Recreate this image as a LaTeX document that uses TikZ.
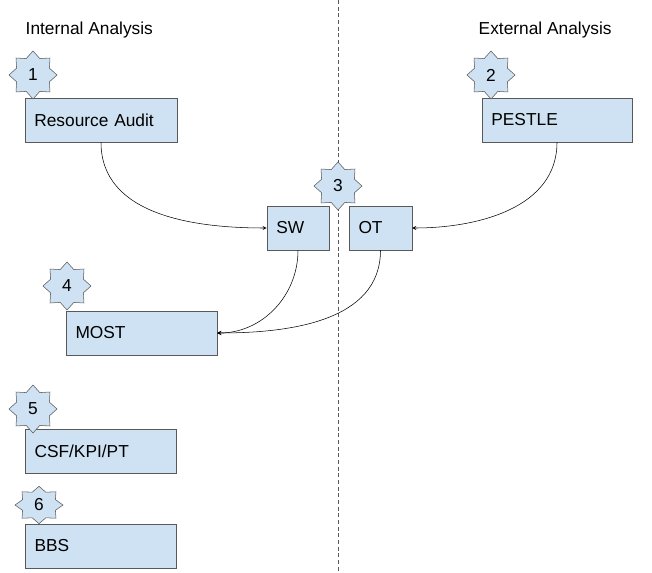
\documentclass[tikz,border=0pt]{standalone}
\usepackage{fontspec}
\setmainfont{Liberation Sans}
\usetikzlibrary{shapes.geometric}
\definecolor{boxblue}{HTML}{CFE2F3}
\definecolor{boxline}{HTML}{595959}

\tikzset{
  stage/.style={draw=boxline, fill=boxblue, text width=#1, align=left,
    inner xsep=7pt, inner ysep=0pt, minimum height=33pt},
  stage/.default=100pt,
  badge/.style={star, star points=8, star point ratio=1.35, draw=boxline,
    fill=boxblue, minimum size=36pt, inner sep=0pt},
  link/.style={-stealth, black, thin}
}

\begin{document}
\begin{tikzpicture}[x=0.75pt, y=-0.75pt, font=\fontsize{13pt}{15pt}\selectfont]
  \useasboundingbox (0,0) rectangle (652,573);

  \coordinate (top) at (338,0);
  \coordinate (bottom) at (338,573);
  \draw[boxline, dash pattern=on 3pt off 2pt] (top) -- (bottom); % divider

  \node[anchor=west] (internal) at (21,30) {Internal Analysis};
  \node[anchor=west] (external) at (474,30) {External Analysis};

  \node[stage] (audit) at (101,120) {Resource Audit};
  \node[stage=98.5pt] (pestle) at (557,120) {PESTLE};
  \node[stage=32.5pt] (sw) at (298,228) {SW};
  \node[stage=33pt] (ot) at (380.5,228) {OT};
  \node[stage=99pt] (most) at (141.5,333) {MOST};
  \node[stage=99pt] (csf) at (100.5,451.5) {CSF/KPI/PT};
  \node[stage=99pt] (bbs) at (100.5,546) {BBS};

  \node[badge] (b1) at (33,75) {1};
  \node[badge] (b2) at (491,75) {2};
  \node[badge] (b3) at (338,186) {3};
  \node[badge] (b4) at (67,286) {4};
  \node[badge] (b5) at (33,409) {5};
  \node[badge, yscale=0.78, transform shape] (b6) at (39,505) {};
  \node (b6num) at (b6) {6};

  \draw[link] (audit.south) to[out=-90, in=180] (sw.west);
  \draw[link] (pestle.south) to[out=-90, in=0] (ot.east);
  \draw[link] (sw.south) to[out=-90, in=0] (most.east);
  \draw[link] (ot.south) to[out=-90, in=0] (most.east);
\end{tikzpicture}
\end{document}
